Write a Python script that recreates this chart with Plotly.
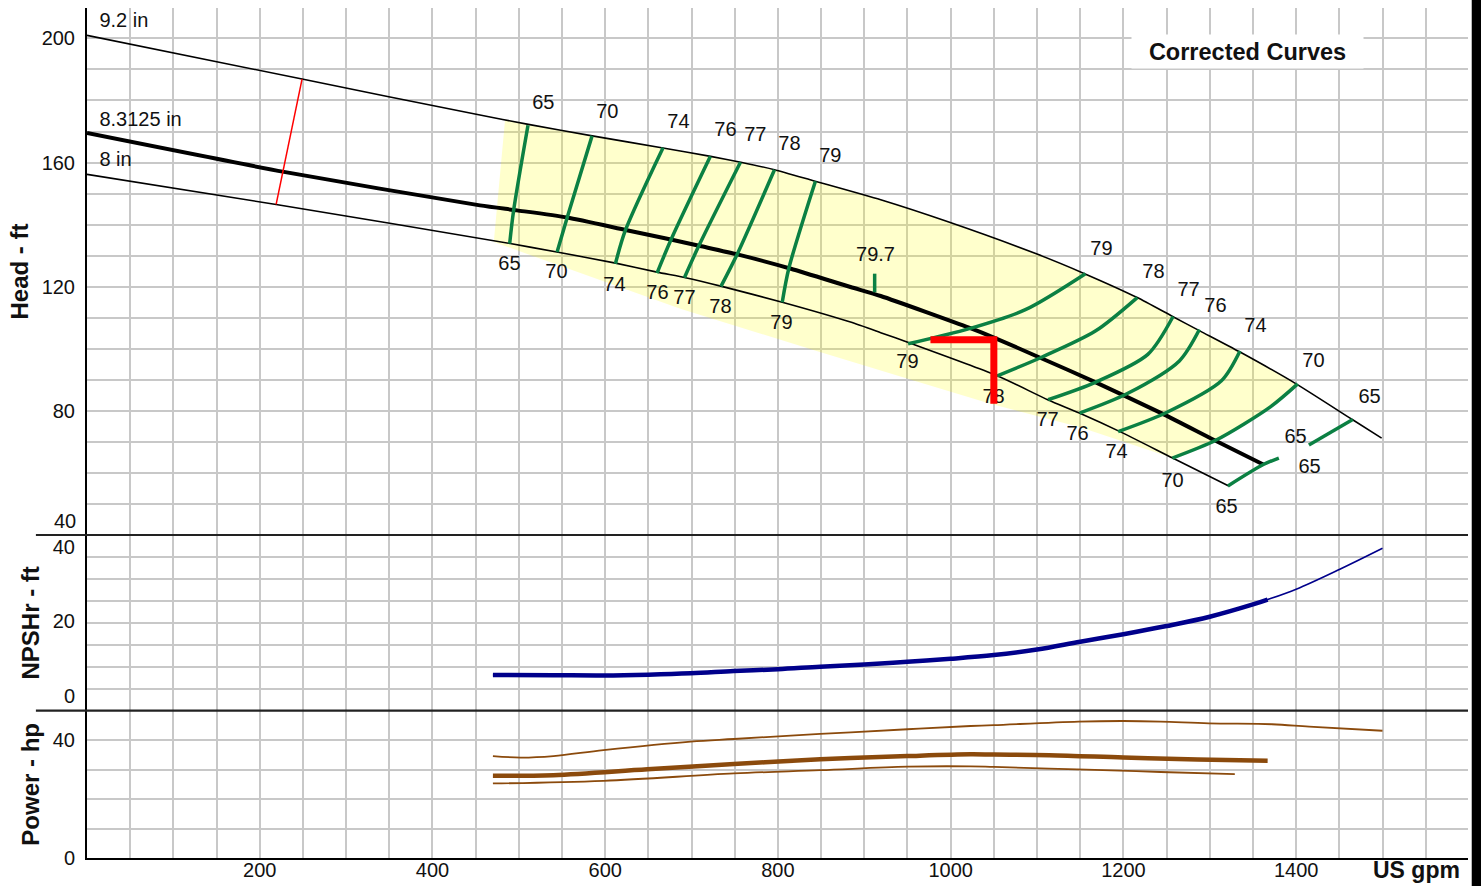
import plotly.graph_objects as go
from plotly.subplots import make_subplots

# ---------------- data ----------------
# Head curves (US gpm, ft)
Q_92 = [0, 249, 455, 511, 585, 667, 722, 757, 796, 843, 919, 997, 1100, 1155, 1216, 1257, 1289, 1334, 1400, 1465, 1499]
H_92 = [201.0, 186.9, 175.3, 172.3, 168.6, 164.7, 162.0, 160.1, 157.7, 154.0, 148.0, 140.9, 130.5, 124.2, 116.5, 110.4, 105.7, 99.1, 88.7, 77.2, 71.2]

Q_83 = [0, 228, 455, 498, 556, 625, 676, 710, 753, 815, 884, 919, 1022, 1050, 1103, 1168, 1245, 1305, 1362]
H_83 = [169.5, 157.0, 146.2, 144.6, 142.3, 138.2, 135.2, 133.1, 130.4, 125.8, 119.9, 117.0, 106.7, 103.6, 97.2, 89.2, 79.1, 70.6, 62.7]

Q_80 = [0, 219, 490, 544, 612, 660, 693, 735, 805, 884, 919, 951, 1054, 1113, 1149, 1196, 1257, 1322]
H_80 = [156.2, 146.5, 133.9, 131.2, 127.6, 124.7, 122.9, 120.1, 115.0, 108.6, 105.2, 102.0, 91.3, 83.5, 79.3, 73.3, 64.8, 55.8]

DIAM_LABELS = ["9.2 in", "8.3125 in", "8 in"]
DIAM_LBL_Q = [14.4, 14.4, 14.4]
DIAM_LBL_H = [205.3, 173.3, 160.4]

# Efficiency iso-lines
EFF_Q = [
    [510.6, 494.0, 489.4],            # 65 left
    [584.8, 556.0, 544.3],            # 70 left
    [667.0, 623.4, 611.8],            # 74 left
    [721.8, 676.3, 660.0],            # 76 left
    [756.6, 708.3, 691.7],            # 77 left
    [796.0, 752.7, 734.0],            # 78 left
    [843.4, 812.5, 805.0],            # 79 left
    [950.7, 1021.6, 1086.5, 1156.0],  # 79 right
    [1054.0, 1104.7, 1167.5, 1216.0], # 78 right
    [1112.8, 1167.5, 1228.3, 1257.5], # 77 right
    [1149.3, 1204.0, 1264.8, 1288.0], # 76 right
    [1193.9, 1248.6, 1313.5, 1335.0], # 74 right
    [1256.7, 1307.4, 1370.2, 1401.8], # 70 right
    [1414.8, 1465.5],                 # 65 on 9.2
    [1321.0, 1362.0, 1380.0],         # 65 on 8 / 8.3125
    [912.0, 912.0],                   # 79.7 BEP tick
]
EFF_H = [
    [172.0, 144.6, 133.9],
    [168.6, 142.3, 131.2],
    [164.8, 138.2, 127.4],
    [162.0, 135.2, 124.4],
    [160.1, 133.1, 122.9],
    [157.7, 130.4, 120.1],
    [154.0, 125.8, 115.0],
    [101.6, 106.5, 112.6, 124.2],
    [91.3, 97.2, 105.7, 116.5],
    [83.6, 89.2, 98.2, 110.4],
    [79.3, 85.5, 96.1, 106.2],
    [73.3, 79.3, 89.7, 99.3],
    [64.8, 70.6, 81.3, 88.7],
    [69.0, 77.2],
    [55.8, 62.7, 64.8],
    [124.2, 118.2],
]

LBL_TXT = ["65", "70", "74", "76", "77", "78", "79",
           "65", "70", "74", "76", "77", "78", "79",
           "79.7",
           "79", "78", "77", "76", "74", "70", "65",
           "65", "65", "65", "70", "74", "76", "77", "78", "79"]
LBL_Q = [528.4, 602.5, 684.8, 739.2, 773.9, 813.3, 860.7,
         489.1, 543.5, 610.7, 660.5, 691.7, 733.4, 804.1,
         913.0,
         1174.6, 1234.8, 1275.4, 1306.6, 1352.9, 1420.1, 1485.0,
         1399.3, 1415.5, 1319.4, 1256.9, 1192.1, 1146.9, 1112.2, 1049.7, 950.0]
LBL_H = [178.8, 175.9, 172.7, 170.1, 168.5, 165.6, 161.7,
         126.9, 124.4, 120.1, 117.6, 116.0, 113.1, 108.0,
         129.8,
         131.7, 124.3, 118.5, 113.6, 106.9, 95.9, 84.3,
         71.4, 61.7, 48.8, 57.2, 66.5, 72.3, 76.8, 84.2, 95.3]

# Preferred region (yellow) lower boundary
YL_LOW_Q = [471, 687, 842, 957, 1046, 1150, 1257]
YL_LOW_H = [134.4, 112.9, 99.5, 89.8, 82.3, 74.7, 64.8]
YL_TOPLEFT_Q = 484
YL_TOPLEFT_H = 173.6

# Diameter trim indicator and operating point
TRIM_Q = [249, 219]
TRIM_H = [186.9, 146.5]
OP_Q = [976.6, 1050.0, 1050.0]
OP_H = [102.9, 102.9, 82.3]

# NPSHr (ft)
NPSH_Q_92 = [470, 540, 598, 650, 699, 749, 800, 849, 900, 950, 1000, 1050, 1100, 1150, 1200, 1250, 1300, 1350, 1367, 1400, 1450, 1500]
NPSH_92 = [5.56, 5.5, 5.45, 5.65, 6.0, 6.6, 7.1, 7.8, 8.4, 9.1, 9.9, 10.9, 12.4, 14.5, 16.5, 18.7, 21.2, 24.5, 25.8, 28.6, 33.9, 39.6]
NPSH_Q_83 = [470, 540, 598, 650, 699, 749, 800, 849, 900, 950, 1000, 1050, 1100, 1150, 1200, 1250, 1300, 1350, 1367]
NPSH_83 = [5.56, 5.5, 5.45, 5.65, 6.0, 6.6, 7.1, 7.8, 8.4, 9.1, 9.9, 10.9, 12.4, 14.5, 16.5, 18.7, 21.2, 24.5, 25.8]

# Power (hp)
PWR_Q_92 = [470, 502, 540, 598, 699, 749, 849, 950, 1023, 1050, 1148, 1200, 1243, 1299, 1372, 1415, 1500]
PWR_92 = [34.6, 34.1, 34.6, 36.6, 39.5, 40.4, 42.1, 43.7, 44.8, 45.1, 46.3, 46.5, 46.3, 45.7, 45.4, 44.6, 43.2]
PWR_Q_83 = [470, 540, 649, 749, 849, 950, 1023, 1050, 1114, 1200, 1286, 1367]
PWR_83 = [27.9, 28.1, 30.1, 31.9, 33.5, 34.6, 35.2, 35.1, 34.9, 34.1, 33.4, 33.0]
PWR_Q_80 = [470, 598, 749, 849, 950, 1023, 1050, 1157, 1243, 1329]
PWR_80 = [25.3, 26.2, 28.7, 29.8, 31.0, 31.1, 30.9, 30.0, 29.2, 28.5]

X_TICKS = [200, 400, 600, 800, 1000, 1200, 1400]
HEAD_TICKS = [80, 120, 160, 200]
NPSH_TICKS = [0, 20, 40]
PWR_TICKS = [0, 40]

# ---------------- styles ----------------
FONT = "Liberation Sans, Arial, sans-serif"
TXT = "#111111"
GRID = "#c8c8c8"
GREEN = "#0b8043"
NAVY = "#00008b"
BROWN = "#8b4a0c"

fig = make_subplots(rows=3, cols=1, shared_xaxes=True, vertical_spacing=0,
                    row_heights=[527 / 850, 175.7 / 850, 147.3 / 850])

# yellow region polygon
top_q = [q for q in Q_92 if YL_TOPLEFT_Q < q < EFF_Q[12][-1]]
top_h = [h for q, h in zip(Q_92, H_92) if YL_TOPLEFT_Q < q < EFF_Q[12][-1]]
poly_q = [YL_LOW_Q[0], YL_TOPLEFT_Q] + top_q + EFF_Q[12][::-1] + YL_LOW_Q[::-1]
poly_h = [YL_LOW_H[0], YL_TOPLEFT_H] + top_h + EFF_H[12][::-1] + YL_LOW_H[::-1]
fig.add_trace(go.Scatter(x=poly_q, y=poly_h, mode="lines", fill="toself",
                         fillcolor="rgba(255,255,0,0.2)", line=dict(width=0),
                         hoverinfo="skip", showlegend=False), row=1, col=1)

# head curves
for q, h, w in [(Q_92, H_92, 1.6), (Q_80, H_80, 1.6), (Q_83, H_83, 4)]:
    fig.add_trace(go.Scatter(x=q, y=h, mode="lines",
                             line=dict(color="black", width=w, shape="spline", smoothing=0.6),
                             showlegend=False), row=1, col=1)

# efficiency lines
for q, h in zip(EFF_Q, EFF_H):
    fig.add_trace(go.Scatter(x=q, y=h, mode="lines",
                             line=dict(color=GREEN, width=3.5, shape="spline", smoothing=0.8),
                             showlegend=False), row=1, col=1)

# labels
fig.add_trace(go.Scatter(x=LBL_Q, y=LBL_H, mode="text", text=LBL_TXT,
                         textfont=dict(family=FONT, size=20, color=TXT),
                         textposition="middle center", showlegend=False), row=1, col=1)
fig.add_trace(go.Scatter(x=DIAM_LBL_Q, y=DIAM_LBL_H, mode="text", text=DIAM_LABELS,
                         textfont=dict(family=FONT, size=20, color=TXT),
                         textposition="middle right", showlegend=False), row=1, col=1)

# red lines
fig.add_trace(go.Scatter(x=TRIM_Q, y=TRIM_H, mode="lines",
                         line=dict(color="#ff0000", width=1.5), showlegend=False), row=1, col=1)
fig.add_trace(go.Scatter(x=OP_Q, y=OP_H, mode="lines",
                         line=dict(color="#ff0000", width=7), showlegend=False), row=1, col=1)

# NPSH
fig.add_trace(go.Scatter(x=NPSH_Q_92, y=NPSH_92, mode="lines",
                         line=dict(color=NAVY, width=1.6, shape="spline"), showlegend=False), row=2, col=1)
fig.add_trace(go.Scatter(x=NPSH_Q_83, y=NPSH_83, mode="lines",
                         line=dict(color=NAVY, width=4.5, shape="spline"), showlegend=False), row=2, col=1)

# Power
fig.add_trace(go.Scatter(x=PWR_Q_92, y=PWR_92, mode="lines",
                         line=dict(color=BROWN, width=1.8, shape="spline"), showlegend=False), row=3, col=1)
fig.add_trace(go.Scatter(x=PWR_Q_80, y=PWR_80, mode="lines",
                         line=dict(color=BROWN, width=1.8, shape="spline"), showlegend=False), row=3, col=1)
fig.add_trace(go.Scatter(x=PWR_Q_83, y=PWR_83, mode="lines",
                         line=dict(color=BROWN, width=4.5, shape="spline"), showlegend=False), row=3, col=1)

# axes
xcommon = dict(range=[0, 1599], showgrid=True, gridcolor=GRID, gridwidth=2,
               tickmode="array", tickvals=X_TICKS, ticks="", automargin=False,
               minor=dict(tickmode="linear", tick0=0, dtick=50, showgrid=True, gridcolor=GRID, gridwidth=2),
               zeroline=False, showline=False)
for r in (1, 2, 3):
    fig.update_xaxes(**xcommon, row=r, col=1)
fig.update_xaxes(showline=True, linecolor="black", linewidth=2, ticklabelstandoff=-7,
                 showticklabels=True, tickfont=dict(family=FONT, size=20, color=TXT), row=3, col=1)

ycommon = dict(showline=True, linecolor="black", linewidth=2, ticks="", zeroline=False, automargin=False,
               tickfont=dict(family=FONT, size=20, color=TXT), ticklabelstandoff=6,
               title=dict(standoff=6, font=dict(family=FONT, size=24, color=TXT)))
fig.update_yaxes(**ycommon, row=1, col=1)
fig.update_yaxes(range=[40, 209.8], tickmode="array", tickvals=HEAD_TICKS,
                 showgrid=True, gridcolor=GRID, gridwidth=2,
                 minor=dict(tickmode="linear", tick0=0, dtick=10, showgrid=True, gridcolor=GRID, gridwidth=2),
                 title_text="<b>Head - ft</b>", row=1, col=1)
fig.update_yaxes(**ycommon, row=2, col=1)
fig.update_yaxes(range=[-4.03, 43.14], tickmode="array", tickvals=NPSH_TICKS, showgrid=False,
                 minor=dict(tickmode="linear", tick0=-4.03, dtick=5.896, showgrid=True, gridcolor=GRID, gridwidth=2),
                 title_text="<b>NPSHr - ft</b>", row=2, col=1)
fig.update_yaxes(**ycommon, row=3, col=1)
fig.update_yaxes(range=[0, 50], tickmode="array", tickvals=PWR_TICKS,
                 showgrid=True, gridcolor=GRID, gridwidth=2,
                 minor=dict(tickmode="linear", tick0=0, dtick=10, showgrid=True, gridcolor=GRID, gridwidth=2),
                 title_text="<b>Power - hp</b>", row=3, col=1)

# separators between panels (extend left past the axis)
for ref in ("y2 domain", "y3 domain"):
    fig.add_shape(type="line", xref="paper", yref=ref, x0=-0.037, x1=1, y0=1, y1=1,
                  line=dict(color="#222222", width=2.2), layer="above")
# right edge dark strip
fig.add_shape(type="rect", xref="paper", yref="paper", x0=1.0027, x1=1.03, y0=-0.06, y1=1.06,
              fillcolor="black", line=dict(width=0), layer="above")

# annotations
fig.add_annotation(text="<b>Corrected Curves</b>", x=1344, y=195.7, xref="x", yref="y",
                   showarrow=False, width=229, height=31, bgcolor="white",
                   font=dict(family=FONT, size=23.5, color=TXT))
fig.add_annotation(text="<b>US gpm</b>", x=1539.5, y=-0.0145, xref="x3", yref="paper",
                   yanchor="middle", showarrow=False, font=dict(family=FONT, size=23, color=TXT))
fig.add_annotation(text="40", x=-0.0065, y=44.6, xref="paper", yref="y", xanchor="right",
                   showarrow=False, font=dict(family=FONT, size=20, color=TXT))

fig.update_layout(width=1481, height=886, margin=dict(l=87, r=13, t=8, b=28, autoexpand=False),
                  paper_bgcolor="white", plot_bgcolor="white", showlegend=False,
                  font=dict(family=FONT, color=TXT))

fig.write_html("out.html", config={"displayModeBar": False},
               post_script="document.body.style.margin='0';")
